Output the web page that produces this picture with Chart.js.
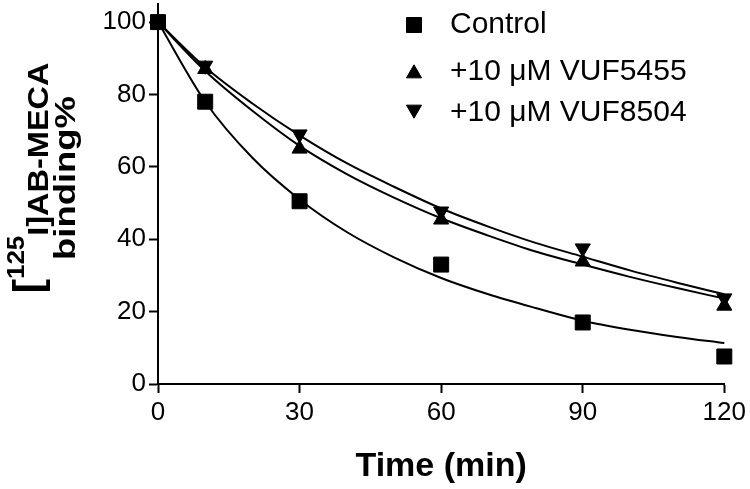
<!DOCTYPE html>
<html>
<head>
<meta charset="utf-8">
<script src="https://cdn.jsdelivr.net/npm/chart.js@4.4.0/dist/chart.umd.min.js"></script>
<style>
  body { margin: 0; background: #fff; }
  #wrap { width: 750px; height: 489px; }
</style>
</head>
<body>
<div id="wrap"><canvas id="bindingChart" width="750" height="489"></canvas></div>
<script>
// measured points (time in min, % binding)
const timePoints = [0, 10, 30, 60, 90, 120];
const controlValues = [100, 78, 50.5, 33, 17, 7.6];
const vuf5455Values = [100, 87, 65, 45.4, 33.8, 21.6];
const vuf8504Values = [100, 88, 69, 47.7, 37.5, 23.7];

// fitted curves, every 10 min
const curveTimes = [0, 10, 20, 30, 40, 50, 60, 70, 80, 90, 100, 110, 120];
const controlCurve = [100, 78, 62.5, 51, 42, 35, 29.3, 24.8, 21, 17.5, 15, 13, 11.3];
const vuf5455Curve = [100, 86.5, 75.5, 65.8, 58, 51.5, 45.8, 41, 36.6, 33, 29.6, 26.5, 23.6];
const vuf8504Curve = [100, 87.5, 77.5, 68.7, 61, 54.5, 48.5, 43.5, 39, 35.2, 31.4, 28, 24.8];

const seriesLabels = ['Control', '+10 \u03BCM VUF5455', '+10 \u03BCM VUF8504'];
const xTicks = [0, 30, 60, 90, 120];
const yTicks = [0, 20, 40, 60, 80, 100];

const fontFamily = '"Liberation Sans", Arial, Helvetica, sans-serif';
Chart.defaults.font.family = fontFamily;
Chart.defaults.color = '#000';

function toPoints(xs, ys) {
    return xs.map((x, i) => ({ x: x, y: ys[i] }));
}

function curveSet(values) {
    return {
        data: toPoints(curveTimes, values),
        showLine: true,
        borderColor: '#000',
        borderWidth: 2,
        pointRadius: 0,
        cubicInterpolationMode: 'monotone',
        clip: false
    };
}

function markerSet(label, values, style, radius, rotation) {
    return {
        label: label,
        data: toPoints(timePoints, values),
        showLine: false,
        pointStyle: style,
        pointRadius: radius,
        pointRotation: rotation,
        backgroundColor: '#000',
        borderColor: '#000',
        borderWidth: 1,
        clip: false
    };
}

const markers = [
    markerSet(seriesLabels[0], controlValues, 'rect', 10.6, 0),
    markerSet(seriesLabels[1], vuf5455Values, 'triangle', 8.7, 0),
    markerSet(seriesLabels[2], vuf8504Values, 'triangle', 8.7, 180)
];

// legend in the top right corner
const cornerLegend = {
    id: 'cornerLegend',
    afterDraw(chart) {
        const ctx = chart.ctx;
        const markerY = [25, 73.5, 109.5];
        const textY = [25, 72, 113];
        ctx.save();
        ctx.fillStyle = '#000';
        ctx.strokeStyle = '#000';
        ctx.font = '30px ' + fontFamily;
        ctx.textBaseline = 'middle';
        markers.forEach((ds, i) => {
            Chart.helpers.drawPoint(ctx, {
                pointStyle: ds.pointStyle,
                radius: ds.pointRadius,
                rotation: ds.pointRotation,
                borderWidth: 1
            }, 414, markerY[i]);
            ctx.fillText(ds.label, 450, textY[i]);
        });
        ctx.restore();
    }
};

// rotated y title with superscript 125
const yTitle = {
    id: 'yTitle',
    afterDraw(chart) {
        const ctx = chart.ctx;
        ctx.save();
        ctx.fillStyle = '#000';
        ctx.translate(0, 178);
        ctx.rotate(-Math.PI / 2);
        ctx.textBaseline = 'alphabetic';

        const mainFont = 'bold 30px ' + fontFamily;
        const bracketFont = 'bold 40px ' + fontFamily;
        const supFont = 'bold 24px ' + fontFamily;
        ctx.font = bracketFont;
        const wOpen = ctx.measureText('[').width;
        ctx.font = mainFont;
        const wRest = ctx.measureText('I]AB-MECA').width;
        ctx.font = supFont;
        const wSup = ctx.measureText('125').width;
        const w1 = wOpen + wSup + wRest;

        ctx.save();
        ctx.scale(231 / w1, 1);
        let u = -w1 / 2;
        ctx.font = bracketFont;
        ctx.fillText('[', u, 42);
        u += wOpen;
        ctx.font = supFont;
        ctx.fillText('125', u, 24);
        u += wSup;
        ctx.font = mainFont;
        ctx.fillText('I]AB-MECA', u, 48);
        ctx.restore();

        ctx.font = mainFont;
        const w2 = ctx.measureText('binding%').width;
        ctx.scale(164 / w2, 1);
        ctx.fillText('binding%', -w2 / 2, 75);
        ctx.restore();
    }
};

const ctx = document.getElementById('bindingChart').getContext('2d');

const chart = new Chart(ctx, {
    type: 'scatter',
    data: {
        datasets: [
            curveSet(controlCurve),
            curveSet(vuf5455Curve),
            curveSet(vuf8504Curve),
            ...markers
        ]
    },
    options: {
        responsive: false,
        animation: false,
        layout: { autoPadding: false, padding: { top: 4, right: 25, left: 0, bottom: 0 } },
        plugins: {
            legend: { display: false },
            tooltip: { enabled: false }
        },
        scales: {
            x: {
                type: 'linear',
                min: 0,
                max: 120,
                afterFit: (scale) => { scale.height = 105; },
                afterBuildTicks: (scale) => { scale.ticks = xTicks.map(v => ({ value: v })); },
                border: { display: true, color: '#000', width: 2 },
                grid: { drawOnChartArea: false, tickLength: 9, tickColor: '#000', tickWidth: 2 },
                ticks: { font: { size: 26 }, color: '#000', padding: 4, maxRotation: 0 },
                title: {
                    display: true,
                    text: 'Time (min)',
                    color: '#000',
                    font: { size: 34, weight: 'bold', lineHeight: 1.2 },
                    padding: { top: 0, bottom: 2 }
                }
            },
            y: {
                type: 'linear',
                min: 0,
                max: 105,
                afterFit: (scale) => { scale.width = 158; },
                afterBuildTicks: (scale) => { scale.ticks = yTicks.map(v => ({ value: v })); },
                border: { display: true, color: '#000', width: 2 },
                grid: { drawOnChartArea: false, tickLength: 9, tickColor: '#000', tickWidth: 2 },
                ticks: { font: { size: 26, lineHeight: 0.05 }, color: '#000', padding: 3 },
                title: { display: false }
            }
        }
    },
    plugins: [cornerLegend, yTitle]
});
</script>
</body>
</html>
